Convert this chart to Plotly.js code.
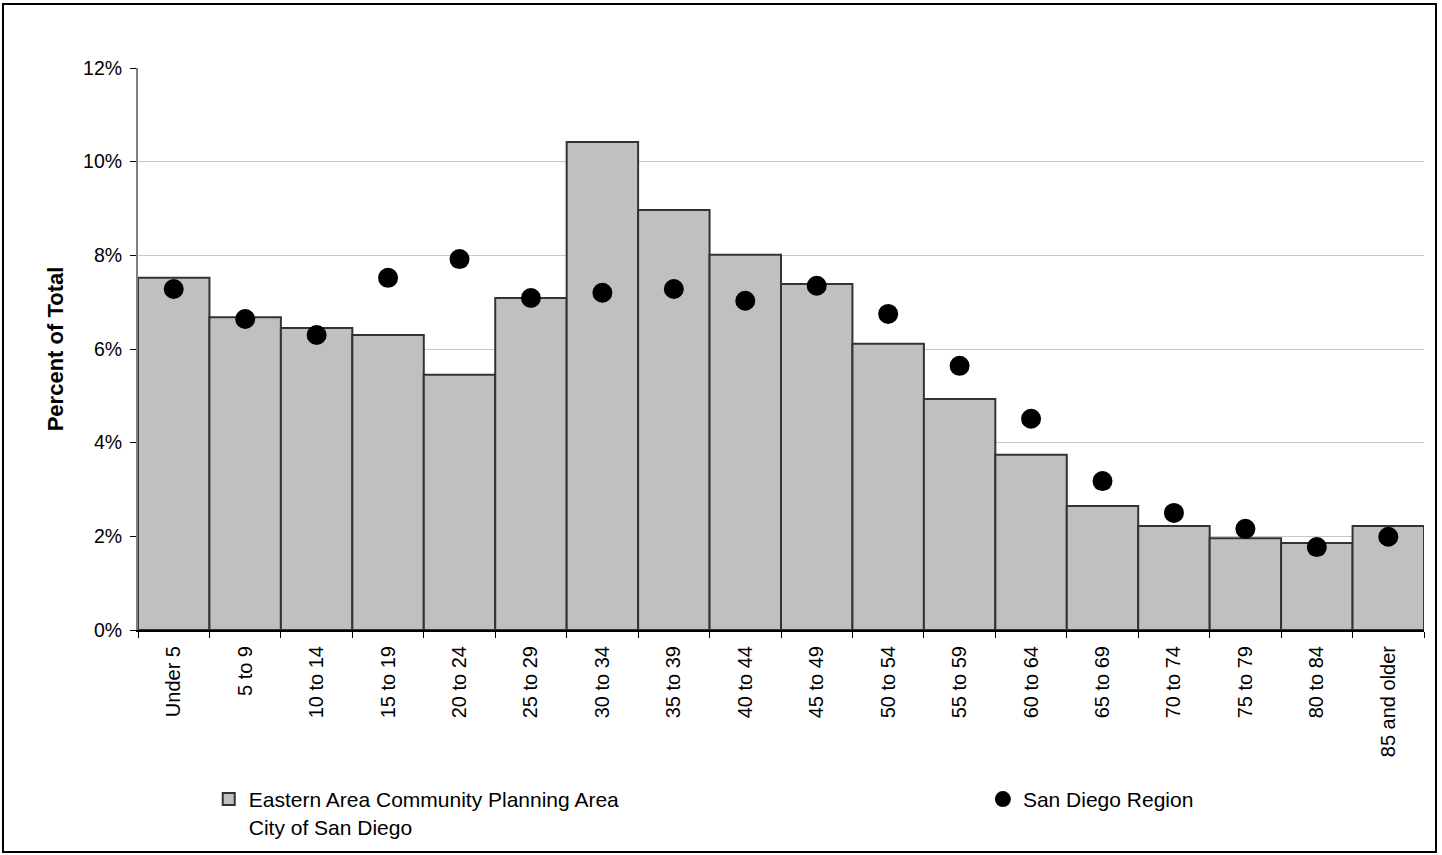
<!DOCTYPE html>
<html>
<head>
<meta charset="utf-8">
<script src="https://cdn.plot.ly/plotly-3.0.1.min.js"></script>
<style>
  html, body { margin: 0; padding: 0; background: #fff; }
  #chart { width: 1442px; height: 855px; }
</style>
</head>
<body>
<div id="chart"></div>
<script>
const categories = ["Under 5", "5 to 9", "10 to 14", "15 to 19", "20 to 24", "25 to 29",
  "30 to 34", "35 to 39", "40 to 44", "45 to 49", "50 to 54", "55 to 59",
  "60 to 64", "65 to 69", "70 to 74", "75 to 79", "80 to 84", "85 and older"];

const easternArea = [7.52, 6.68, 6.45, 6.30, 5.45, 7.09, 10.42, 8.97, 8.01, 7.39,
  6.11, 4.93, 3.74, 2.65, 2.22, 1.96, 1.86, 2.22];

const sanDiegoRegion = [7.28, 6.64, 6.30, 7.52, 7.92, 7.09, 7.20, 7.28, 7.03, 7.35,
  6.75, 5.64, 4.51, 3.18, 2.50, 2.16, 1.77, 1.99];

const yTicks = [0, 2, 4, 6, 8, 10, 12];

const font = "Arial, 'Liberation Sans', sans-serif";

const traces = [
  {
    type: "bar",
    name: "Eastern Area Community Planning Area<br>City of San Diego",
    x: categories,
    y: easternArea,
    marker: { color: "#C0C0C0", line: { color: "#333333", width: 2 } },
    legend: "legend",
    hoverinfo: "x+y"
  },
  {
    type: "scatter",
    mode: "markers",
    name: "San Diego Region",
    x: categories,
    y: sanDiegoRegion,
    marker: { color: "#000000", size: 20 },
    legend: "legend2",
    hoverinfo: "x+y"
  }
];

const legendFont = { family: font, size: 21, color: "#000000" };

const layout = {
  width: 1442,
  height: 855,
  margin: { l: 138, r: 18, t: 68, b: 225, autoexpand: false },
  paper_bgcolor: "#ffffff",
  plot_bgcolor: "#ffffff",
  font: { family: font, size: 20, color: "#000000" },
  bargap: 0,
  showlegend: true,
  xaxis: {
    type: "category",
    range: [-0.5, 17.5],
    tickangle: -90,
    tickson: "boundaries",
    ticks: "outside",
    ticklen: 6,
    tickcolor: "#000000",
    tickwidth: 1,
    ticklabelstandoff: 6,
    showline: true,
    linecolor: "#000000",
    linewidth: 2,
    showgrid: false,
    tickfont: { family: font, size: 20, color: "#000000" },
    fixedrange: true
  },
  yaxis: {
    range: [0, 12],
    tickvals: yTicks,
    ticktext: yTicks.map(v => v + "%"),
    ticks: "outside",
    ticklen: 6,
    tickcolor: "#000000",
    ticklabelstandoff: 4,
    showline: true,
    linecolor: "#808080",
    linewidth: 2,
    showgrid: true,
    gridcolor: "#C8C8C8",
    gridwidth: 1,
    zeroline: false,
    tickfont: { family: font, size: 19.5, color: "#000000" },
    title: { text: "<b>Percent of Total</b>", font: { family: font, size: 22, color: "#000000" }, standoff: 13 },
    fixedrange: true
  },
  legend: {
    orientation: "h",
    x: 0.055,
    xanchor: "left",
    y: -0.265,
    yanchor: "top",
    valign: "top",
    font: legendFont,
    bgcolor: "rgba(0,0,0,0)"
  },
  legend2: {
    orientation: "h",
    x: 0.657,
    xanchor: "left",
    y: -0.265,
    yanchor: "top",
    valign: "top",
    font: legendFont,
    bgcolor: "rgba(0,0,0,0)"
  },
  shapes: [
    {
      type: "rect",
      xref: "paper", yref: "paper",
      x0: (3 - 138) / 1286, x1: (1436 - 138) / 1286,
      y0: (630 - 852) / 562, y1: (630 - 4) / 562,
      line: { color: "#000000", width: 2 },
      fillcolor: "rgba(0,0,0,0)",
      layer: "below"
    }
  ]
};

Plotly.newPlot("chart", traces, layout, { displayModeBar: false, staticPlot: true });
</script>
</body>
</html>
